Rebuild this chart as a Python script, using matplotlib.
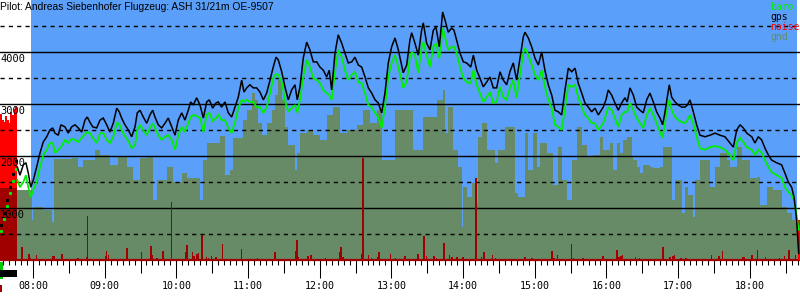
import matplotlib
matplotlib.use("Agg")
import matplotlib.pyplot as plt
from matplotlib.transforms import blended_transform_factory
from matplotlib.patches import Rectangle

title = "Pilot: Andreas Siebenhofer Flugzeug: ASH 31/21m OE-9507"

# time axis: minutes since 08:00
t = [-13.1, -10.9, -8.1, -5.9, -3.9, -1.9, 0.3, 3.1, 5.9, 8.6, 11.5, 14.2, 16.5, 18.4, 21.2, 23.4, 26.8, 29.5,
     32.4, 35.2, 37.9, 40.8, 43.5, 45.4, 47.7, 50.0, 53.3, 56.1, 58.8, 61.7, 64.4, 67.2, 70.1, 72.2, 74.2, 77.0,
     79.8, 82.6, 85.4, 87.3, 89.6, 92.3, 95.2, 97.9, 100.2, 102.1, 104.9, 107.7, 110.5, 113.2, 116.1, 118.9,
     121.6, 124.5, 127.2, 130.0, 132.0, 134.2, 137.0, 139.8, 142.6, 145.4, 147.6, 150.4, 153.2, 155.1, 157.9,
     160.7, 163.5, 166.3, 169.1, 171.8, 174.7, 176.6, 178.9, 181.6, 184.4, 187.2, 190.0, 192.8, 195.6, 198.4,
     201.1, 203.4, 205.3, 208.2, 210.9, 213.7, 216.5, 219.3, 221.2, 223.5, 226.2, 229.1, 231.8, 234.6, 237.5,
     240.2, 243.0, 245.8, 248.0, 250.0, 252.8, 255.5, 258.4, 261.1, 263.9, 266.8, 269.5, 272.3, 275.1, 277.9,
     280.7, 283.5, 286.3, 289.0, 291.9, 294.6, 297.4, 300.2, 303.0, 305.8, 309.9, 312.8, 315.5, 317.0, 319.7,
     322.5, 325.3, 326.7, 329.5, 332.3, 335.1, 337.3, 340.1, 342.9, 344.8, 347.6, 350.4, 352.4, 354.6, 357.4,
     360.2, 363.0, 366.4, 368.6, 371.4, 374.1, 376.9, 379.7, 382.5, 385.3, 388.1, 390.9, 393.6, 396.5, 399.2,
     402.0, 404.8, 407.6, 410.4, 411.8, 414.6, 417.4, 420.2, 423.0, 425.8, 428.5, 431.3, 434.2, 436.9, 439.7,
     442.5, 445.3, 448.1, 450.9, 453.7, 456.4, 459.3, 462.0, 464.8, 467.6, 470.4, 473.2, 477.3, 479.6, 481.5,
     484.4, 487.1, 489.9, 492.7, 495.5, 497.4, 499.7, 502.5, 505.3, 508.1, 510.8, 513.7, 516.4, 519.2, 522.0,
     524.8, 527.0, 528.9, 530.9, 532.6, 534.6, 537.4, 540.1, 543.0, 545.7, 547.7, 549.9, 552.7, 555.5, 558.3,
     562.5, 566.7, 570.9, 575.0, 579.2, 583.4, 586.2, 589.0, 591.8, 594.5, 597.4, 601.6, 604.3, 607.1, 609.9,
     612.7, 615.5, 618.3, 622.5, 626.6, 629.4, 632.2, 635.0, 637.0, 638.6, 639.7, 640.9]
gps = [1790, 1630, 1830, 1870, 1670, 1400, 1540, 1790, 2060, 2270, 2370, 2500, 2540, 2440, 2400, 2600, 2560, 2440,
       2560, 2600, 2540, 2460, 2690, 2750, 2650, 2560, 2540, 2690, 2730, 2600, 2460, 2630, 2920, 2850, 2730, 2600,
       2500, 2370, 2560, 2830, 2880, 2750, 2630, 2790, 2880, 2750, 2600, 2540, 2630, 2730, 2560, 2400,
       2690, 2830, 2690, 2880, 3040, 2980, 3120, 2980, 2730, 3040, 3080, 2920, 3020, 3040, 2940,
       3040, 2830, 2750, 2940, 3130, 3460, 3230, 3310, 3370, 3310, 3310, 3230, 3080, 3210, 3460,
       3710, 3900, 3850, 3620, 3330, 3080, 3270, 3370, 3080, 3330, 3880, 4190, 4040, 3810, 3810,
       3710, 3650, 3520, 3650, 3270, 3980, 4330, 4170, 3980, 3790, 3810, 3900, 3750, 3710, 3520,
       3310, 3210, 3080, 3020, 2830, 3210, 3790, 4100, 4270, 4040, 3600, 3750, 4230, 4370, 4170,
       3940, 4420, 4560, 4170, 4040, 4420, 4480, 4100, 4770, 4620, 4380, 4460, 4420, 4230, 3980,
       3810, 3790, 3710, 3940, 3650, 3500, 3330, 3420, 3520, 3310, 3310, 3620, 3460, 3370, 3620,
       3790, 3460, 3880, 4290, 4380, 4270, 4100, 3880, 3750, 4000, 3650, 3370, 3170, 2880, 2850,
       2790, 3270, 3690, 3620, 3690, 3400, 3210, 3020, 2940, 2850, 2920, 2790, 2940, 3080, 3270,
       3170, 3020, 2880, 3020, 3120, 3040, 3310, 3170, 2940, 2880, 2830, 3080, 3210, 3040, 2850,
       2730, 2600, 2830, 3130, 3370, 3130, 3040, 2980, 2940, 2940, 2980, 3080, 2850, 2600, 2400,
       2370, 2400, 2440, 2400, 2370, 2250, 2170, 2500, 2600, 2540, 2440, 2370, 2250, 2370, 2310,
       2150, 2020, 1920, 1870, 1830, 1670, 1500, 1400, 1210, 900, 580, 130]
baro = [1540, 1400, 1500, 1630, 1400, 1210, 1350, 1500, 1790, 2020, 2120, 2250, 2250, 2060, 2120, 2170, 2310, 2250,
        2330, 2310, 2270, 2350, 2420, 2460, 2440, 2350, 2250, 2440, 2440, 2310, 2250, 2370, 2630, 2620, 2500, 2380,
        2290, 2150, 2210, 2500, 2600, 2500, 2400, 2540, 2630, 2540, 2400, 2310, 2370, 2400, 2310, 2120,
        2400, 2560, 2460, 2630, 2750, 2790, 2770, 2730, 2460, 2790, 2830, 2670, 2730, 2790, 2690,
        2690, 2540, 2440, 2650, 2920, 3080, 3040, 3080, 3040, 3040, 2940, 2940, 2830, 2940, 3210,
        3500, 3580, 3560, 3420, 3080, 2850, 2920, 2980, 2830, 3080, 3520, 3850, 3710, 3500, 3460,
        3400, 3270, 3210, 3170, 3080, 3620, 4040, 3900, 3650, 3460, 3560, 3620, 3420, 3400, 3210,
        2980, 2940, 2830, 2750, 2540, 2940, 3520, 3790, 3940, 3710, 3310, 3420, 3900, 4000, 3940,
        3600, 4100, 4190, 3940, 3710, 4100, 4170, 3880, 4460, 4290, 4040, 4100, 4100, 3980, 3710,
        3500, 3420, 3400, 3650, 3370, 3210, 3040, 3130, 3230, 3020, 3040, 3330, 3130, 3080, 3310,
        3460, 3120, 3560, 3980, 4080, 3940, 3750, 3560, 3460, 3650, 3330, 3080, 2920, 2600, 2560,
        2500, 2920, 3370, 3330, 3370, 3120, 2940, 2790, 2730, 2630, 2630, 2500, 2630, 2790, 2940,
        2880, 2730, 2560, 2790, 2850, 2850, 3020, 2880, 2730, 2630, 2540, 2790, 2920, 2790, 2630,
        2460, 2350, 2630, 2940, 3080, 2880, 2750, 2690, 2650, 2630, 2690, 2790, 2630, 2370, 2150,
        2120, 2170, 2190, 2170, 2120, 2020, 1920, 2250, 2350, 2270, 2170, 2120, 2020, 2120, 2060,
        1920, 1790, 1690, 1630, 1580, 1400, 1310, 1250, 1150, 960, 770, 580]

# sparse fixes of the engine climb before the logger track starts
climb_t = [-27.0, -24.5, -22.0, -19.5, -17.0, -14.5]
climb_gps = [670, 900, 1150, 1400, 1650, 1900]
climb_baro = [560, 780, 1030, 1280, 1520, 1750]

# ground elevation (step start time, elevation)
gnd_t = [-13.4, -0.8, 0.0, 8.4, 15.9, 17.8, 32.6, 37.7, 41.9, 51.9, 56.1, 64.4, 71.1, 78.7, 83.7, 89.6, 95.4,
         100.4, 103.8, 112.2, 117.2, 124.7, 128.9, 139.8, 142.3, 145.6, 156.5, 160.7, 164.9, 167.4, 175.8,
         179.1, 183.3, 185.8, 188.3, 191.7, 195.9, 200.0, 202.6, 205.1, 208.4, 210.9, 213.4, 219.3, 221.0,
         223.5, 229.3, 234.4, 240.2, 246.1, 251.1, 257.0, 262.8, 271.2, 276.2, 282.1, 287.9, 292.1, 303.0,
         318.1, 326.4, 338.1, 343.2, 344.8, 347.4, 351.5, 355.7, 359.1, 359.9, 363.3, 367.4, 370.0, 372.5,
         375.8, 380.0, 386.7, 389.2, 395.1, 403.4, 405.9, 411.8, 414.3, 418.5, 421.8, 424.4, 430.2, 435.2,
         439.4, 442.8, 447.0, 451.1, 455.3, 459.5, 463.7, 468.7, 474.6, 477.1, 482.9, 485.5, 488.8, 491.3,
         493.8, 497.2, 501.4, 502.2, 505.5, 508.1, 510.6, 516.4, 519.0, 524.8, 527.3, 534.8, 537.4, 543.2,
         545.7, 548.2, 552.4, 554.1, 558.3, 566.7, 570.9, 575.0, 580.9, 583.4, 589.2, 593.4, 600.1, 606.0,
         608.5, 614.4, 619.4, 626.9, 631.1, 635.3, 637.8, 640.3]
gnd = [1350, 770, 1020, 960, 730, 1940, 1960, 1790, 1920, 2120, 2020, 1830, 1980, 1790, 1540, 1960, 1980,
       1150, 1540, 1790, 1500, 1670, 1580, 1150, 1920, 2250, 2380, 1630, 1730, 2350, 2690,
       2880, 3210, 3080, 2630, 2400, 2630, 2880, 3170, 3460, 3080, 2560, 2210, 1730, 2060,
       2440, 2500, 2400, 2310, 2790, 2940, 2440, 2500, 2600, 2880, 2630, 2880, 1920, 2880,
       2120, 2750, 3080, 3270, 2440, 2940, 2120, 1790, 630, 1400, 1210, 1480, 1100, 2370,
       2630, 2120, 1870, 2120, 2560, 1290, 1210, 2440, 1730, 2440, 1790, 2250, 2060, 1440,
       2170, 1540, 1150, 1920, 2560, 2210, 1980, 2020, 2370, 2120, 2250, 1730, 2250, 2060,
       2310, 2370, 1980, 1920, 1790, 1670, 1830, 1790, 1770, 1790, 2170, 1150, 1540, 900,
       1400, 1250, 830, 1540, 1920, 1400, 1790, 2060, 1920, 1790, 2170, 1920, 1580, 1600,
       1060, 1400, 1350, 1020, 900, 770, 710, 710]

# noise level (engine noise sensor)
noise_t = [-9.2, -3.3, -1.7, 3.3, 16.7, 17.6, 20.0, 24.3, 37.7, 45.0, 46.0, 55.0, 61.1, 61.9, 63.6, 78.7, 79.5,
           91.2, 98.8, 99.6, 103.8, 108.8, 116.3, 128.1, 128.9, 133.9, 134.8, 137.3, 138.9, 141.5, 145.6,
           147.3, 149.8, 153.2, 159.0, 174.9, 188.3, 202.6, 220.1, 221.0, 222.6, 230.2, 232.7, 241.1, 245.2,
           257.0, 257.8, 258.6, 259.5, 275.4, 276.2, 281.2, 283.7, 288.8, 289.6, 299.6, 303.8, 311.4, 322.2,
           323.0, 327.3, 329.0, 335.6, 336.4, 338.1, 344.0, 349.0, 350.7, 354.9, 359.9, 370.8, 375.8, 377.5,
           385.0, 387.5, 400.9, 411.8, 417.7, 434.4, 436.1, 439.4, 451.1, 452.8, 460.4, 477.1, 477.9, 488.8,
           490.5, 492.2, 493.8, 504.1, 507.4, 527.3, 533.2, 535.7, 536.6, 542.4, 546.6, 568.3, 574.2, 577.5,
           594.3, 595.1, 601.8, 602.6, 606.8, 613.5, 625.2, 629.4, 632.8, 638.6]
noise = [250, 115, 40, 100, 80, 80, 20, 115, 40, 60, 850, 20, 80, 170, 100, 230, 210,
         150, 270, 100, 40, 170, 1120, 150, 290, 150, 80, 115, 130, 480, 60,
         40, 80, 60, 310, 210, 40, 150, 170, 380, 60, 80, 100, 20, 40,
         150, 250, 230, 60, 115, 1960, 100, 40, 60, 150, 115, 40, 80, 115,
         115, 460, 80, 80, 80, 40, 330, 100, 60, 60, 60, 1580, 60, 150,
         100, 40, 20, 60, 40, 170, 40, 100, 310, 40, 40, 80, 80, 190,
         60, 80, 100, 60, 40, 250, 60, 80, 100, 40, 40, 100, 80, 170,
         60, 60, 100, 100, 190, 60, 40, 80, 190, 100]

# loud engine noise at launch and at touchdown
engine_t = [-27.4, -26.0, -24.6, -23.2, -21.8, -20.4, -19.0, -17.6, -16.2, -14.8, 640.6, 641.4]
engine_noise = [2800, 2700, 2650, 2760, 2700, 2640, 2850, 2780, 2900, 2950, 770, 770]
engine_floor = 1380

hour_pos = [0, 60, 120, 180, 240, 300, 360, 420, 480, 540, 600]
hour_labels = ["08:00", "09:00", "10:00", "11:00", "12:00", "13:00", "14:00", "15:00", "16:00", "17:00", "18:00"]
flight_start, flight_end = -1.7, 639.5
x_min, x_max = -27.6, 642.0

BLUE = "#5a9ffa"
GND = "#668b66"
DARKRED = "#a00000"
GREEN = "#00ee00"
MONO = "DejaVu Sans Mono"

fig = plt.figure(figsize=(8, 3), dpi=100)
ax = fig.add_axes([0, 40 / 300, 1, 260 / 300])
ax.set_xlim(x_min, x_max)
ax.set_ylim(0, 5000)
ax.set_facecolor("white")
for s in ["top", "left", "right"]:
    ax.spines[s].set_visible(False)
ax.spines["bottom"].set_color(DARKRED)
ax.spines["bottom"].set_linewidth(1.6)
ax.set_yticks([])

ax.axvspan(flight_start, flight_end, color=BLUE, lw=0, zorder=0)

# engine noise block
ax.bar(engine_t[:10], [engine_floor] * 10, width=1.45, align="edge", color=DARKRED, lw=0, zorder=1)
ax.bar(engine_t[:10], [n - engine_floor for n in engine_noise[:10]], bottom=engine_floor, width=1.45,
       align="edge", color="red", lw=0, zorder=1)
ax.bar(engine_t[10:], engine_noise[10:], width=0.85, align="edge", color="red", lw=0, zorder=4)

ax.fill_between(gnd_t, gnd, step="post", color=GND, lw=0, zorder=1)

for v in [1000, 2000, 3000, 4000]:
    ax.axhline(v, color="black", lw=1.0, zorder=2)
for v in [500, 1500, 2500, 3500, 4500]:
    ax.axhline(v, color="black", lw=1.0, ls=(0, (3, 3)), zorder=2)

ax.bar(noise_t, noise, width=0.9, color=DARKRED, lw=0, zorder=3)

ax.plot(climb_t, climb_gps, color="black", lw=0, marker="s", ms=1.2, zorder=5)
ax.plot(climb_t, climb_baro, color=GREEN, lw=0, marker="s", ms=1.2, zorder=5)
ax.plot(t, baro, color=GREEN, lw=1.3, zorder=5, solid_joinstyle="miter")
ax.plot(t, gps, color="black", lw=1.1, zorder=6, solid_joinstyle="miter")

ytr = blended_transform_factory(ax.transAxes, ax.transData)
for v in [1000, 2000, 3000, 4000]:
    ax.text(0.0, v - 35, str(v), transform=ytr, ha="left", va="top", fontsize=7.5, family=MONO, zorder=7)

ax.text(0.0, 0.993, title, transform=ax.transAxes, ha="left", va="top", fontsize=7.4,
        family="Liberation Sans", zorder=7)

legend = [("baro", GREEN), ("gps", "black"), ("noise", "red"), ("gnd", GND)]
for i, (name, col) in enumerate(legend):
    ax.text(0.9625, 1 - (2 + 10 * i) / 260, name, transform=ax.transAxes, ha="left", va="top",
            fontsize=7.0, family=MONO, color=col, zorder=7)

# ticks: 5 min minor, 30 min medium, hours long with labels
ax.set_xticks([m for m in range(-30, 645, 30) if x_min <= m <= x_max and m % 60 != 0])
ax.set_xticklabels([])
ax.set_xticks([m for m in range(-25, 645, 5) if x_min <= m <= x_max], minor=True)
ax.tick_params(axis="x", which="major", length=9.4, width=0.75, color="black", direction="out")
ax.tick_params(axis="x", which="minor", length=3.6, width=0.75, color="black", direction="out")
sec = ax.secondary_xaxis("bottom")
sec.set_xticks(hour_pos, hour_labels)
sec.tick_params(axis="x", length=13, width=0.75, pad=1.8, labelsize=7.2)
for lbl in sec.get_xticklabels():
    lbl.set_family(MONO)
sec.spines["bottom"].set_visible(False)

# launch markers below the axis
tb = blended_transform_factory(ax.transData, ax.transAxes)
ax.add_patch(Rectangle((x_min, -10 / 260), engine_t[9] + 1.4 - x_min, -7 / 260, transform=tb,
                       color="black", clip_on=False, lw=0))
ax.add_patch(Rectangle((x_min, -2 / 260), 2.5, -17 / 260, transform=tb, color="#00cc00",
                       clip_on=False, lw=0, zorder=0))
ax.add_patch(Rectangle((x_min, -25 / 260), 1.7, -7 / 260, transform=tb, color=DARKRED,
                       clip_on=False, lw=0))

fig.savefig("out.png", dpi=100)
